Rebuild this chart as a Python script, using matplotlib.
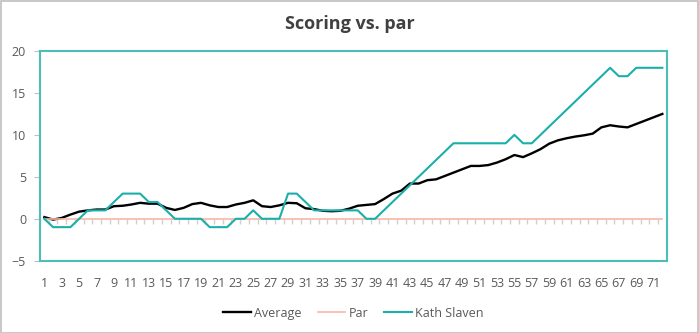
import matplotlib
matplotlib.use("Agg")
import matplotlib.pyplot as plt
from matplotlib.patches import Rectangle

plt.rcParams['font.family'] = ['Open Sans', 'DejaVu Sans']

holes = list(range(1, 73))
average = [0.2, -0.1, 0.1, 0.5, 0.85, 1.0, 1.1, 1.1, 1.5, 1.55,
           1.7, 1.9, 1.8, 1.8, 1.3, 1.05, 1.3, 1.75, 1.9, 1.6,
           1.4, 1.4, 1.7, 1.9, 2.2, 1.5, 1.4, 1.6, 1.9, 1.85,
           1.25, 1.15, 0.95, 0.9, 0.95, 1.2, 1.55, 1.65, 1.75, 2.35,
           3.0, 3.35, 4.2, 4.2, 4.6, 4.7, 5.1, 5.5, 5.9, 6.3,
           6.3, 6.4, 6.7, 7.1, 7.6, 7.35, 7.8, 8.3, 8.95, 9.35,
           9.6, 9.8, 9.95, 10.15, 10.9, 11.15, 11.0, 10.9, 11.3, 11.7,
           12.1, 12.5]
par = [0] * 72
kath = [0, -1, -1, -1, 0, 1, 1, 1, 2, 3,
        3, 3, 2, 2, 1, 0, 0, 0, 0, -1,
        -1, -1, 0, 0, 1, 0, 0, 0, 3, 3,
        2, 1, 1, 1, 1, 1, 1, 0, 0, 1,
        2, 3, 4, 5, 6, 7, 8, 9, 9, 9,
        9, 9, 9, 9, 10, 9, 9, 10, 11, 12,
        13, 14, 15, 16, 17, 18, 17, 17, 18, 18,
        18, 18]
y_ticks = [-5, 0, 5, 10, 15, 20]
x_labels = [str(h) for h in holes[::2]]

teal = '#1AAFA9'
text_c = '#595959'

fig = plt.figure(figsize=(6.99, 3.33), dpi=100)
fig.patches.append(Rectangle((0.001, 0.001), 0.997, 0.997, transform=fig.transFigure,
                             fill=False, edgecolor='#BFBFBF', linewidth=1.2))
ax = fig.add_axes([0.0572, 0.2171, 0.8966, 0.6297])

ax.plot(holes, average, color='black', lw=1.7, label='Average', zorder=3)
ax.plot(holes, par, color='#F7B7A6', lw=1.2, label='Par', zorder=4)
ax.plot(holes, kath, color=teal, lw=1.5, label='Kath Slaven', zorder=5)

# category tick marks at the zero line
bounds = [h + 0.5 for h in [0] + holes]
ax.vlines(bounds, -0.6, 0, color='#D0D0D0', lw=1.0, zorder=2)

ax.set_xlim(0.5, 72.5)
ax.set_ylim(-5, 20)
ax.set_yticks(y_ticks)
ax.set_xticks(holes[::2])
ax.set_xticklabels(x_labels)
ax.tick_params(axis='x', length=0, labelsize=9, labelcolor=text_c, pad=12)
ax.tick_params(axis='y', length=4, color='#BFBFBF', labelsize=9, labelcolor=text_c, pad=6)

for s in ax.spines.values():
    s.set_color('#4DBDB8')
    s.set_linewidth(1.5)

fig.suptitle('Scoring vs. par', fontsize=13, fontweight='bold', color='#404040', y=0.955)

leg = ax.legend(loc='upper center', bbox_to_anchor=(0.5, -0.165), ncol=3, frameon=False,
                fontsize=9, handlelength=2.2, handletextpad=0.25, columnspacing=1.3)
for t in leg.get_texts():
    t.set_color(text_c)

fig.savefig('out.png', dpi=100)
